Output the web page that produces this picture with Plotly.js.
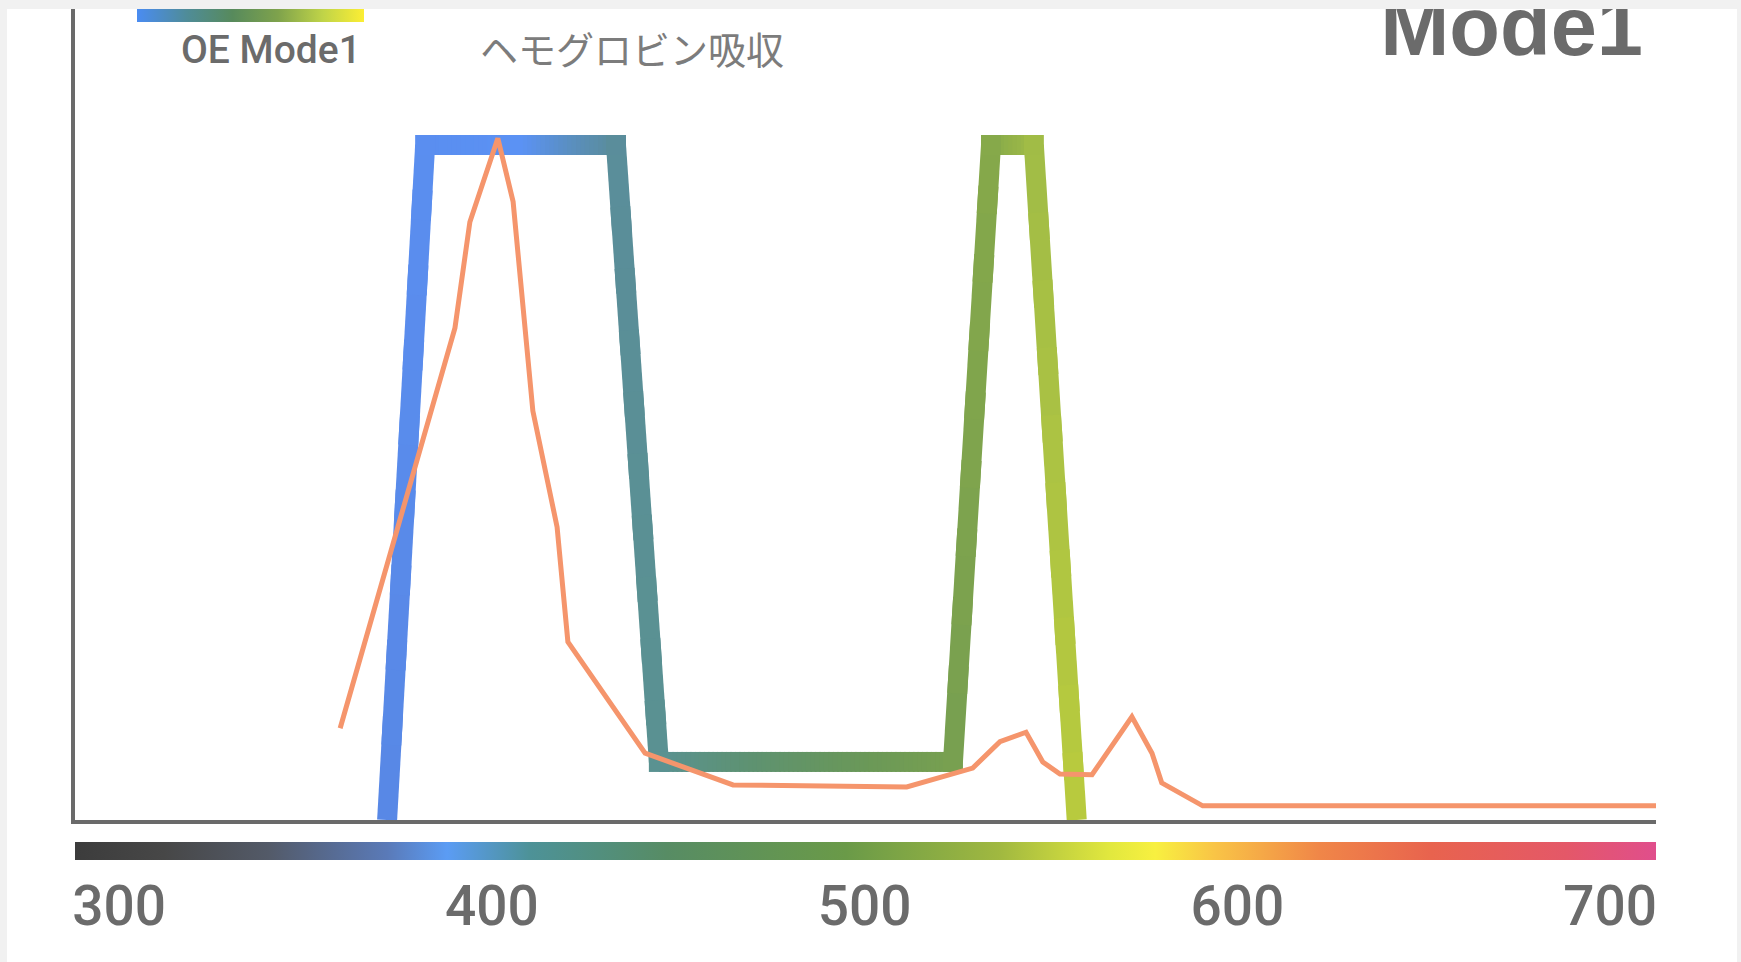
<!DOCTYPE html>
<html><head><meta charset="utf-8">
<script src="https://cdn.plot.ly/plotly-3.0.1.min.js"></script>
<style>
html,body{margin:0;padding:0;background:#f1f1f1;width:1741px;height:962px;overflow:hidden}
#chart{position:absolute;left:7px;top:9px;width:1730px;height:953px;background:#fff}
</style></head><body><div id="chart"></div>
<script>
// ---- data ----
const xRange = [288.17, 712.3];
const tickVals = [300, 400, 500, 600, 700];
const tickText = ['300', '400', '500', '600', '700'];

// OE Mode1 filter profile (vertices)
const oeX = [371.9, 382.1, 433.3, 444.8, 523.7, 533.9, 545.4, 556.9];
const oeY = [0, 100, 100, 8.6, 8.6, 100, 100, 0];

// Hemoglobin absorption
const hbX = [359.3, 390.1, 394.1, 401.6, 405.7, 411.0, 417.5, 420.4, 441.1, 464.7, 511.3, 529.0, 536.3, 543.3, 547.8, 552.4, 561.0, 571.7, 577.1, 579.7, 590.7, 712.3];
const hbY = [13.6, 72.9, 88.6, 101.0, 91.6, 60.6, 43.4, 26.4, 9.9, 5.2, 4.9, 7.7, 11.6, 13.0, 8.6, 6.8, 6.7, 15.3, 9.9, 5.5, 2.1, 2.1];

// OE Mode1 colour along wavelength
const oeGradNm = [371, 382, 408, 420, 432, 446, 470, 500, 524, 534, 546, 557];
const oeGradColors = ['#5887e4', '#5a8ef0', '#5b92f4', '#5a8fc4', '#5a8d9c', '#5a9290', '#5e9270', '#6a9858', '#78a050', '#86a94a', '#a2bd46', '#b9cb3e'];

// spectrum bar
const specNm = [288.17, 312, 340, 372, 388, 410, 447, 495, 536, 566, 578, 594, 622, 652, 688, 712.3];
const specColors = ['#3c3c3c', '#474747', '#535a68', '#5a7ab8', '#5b9cf4', '#4d9298', '#578c64', '#6a9a48', '#a0b840', '#e2e83e', '#f8f040', '#f9c446', '#f08648', '#e8634e', '#e45868', '#e04e8c'];

// legend swatch
const swatchPos = [0, 0.22, 0.42, 0.62, 0.82, 1];
const swatchColors = ['#4a8cf2', '#4f8c98', '#578a5c', '#7ea24c', '#c0d448', '#fcee34'];

// ---- helpers ----
function hexToRgb(h){h=h.replace('#','');return [0,2,4].map(i=>parseInt(h.substr(i,2),16));}
function colorAt(nm){
  if(nm<=oeGradNm[0]) return oeGradColors[0];
  for(let i=0;i<oeGradNm.length-1;i++){
    if(nm<=oeGradNm[i+1]){
      const t=(nm-oeGradNm[i])/(oeGradNm[i+1]-oeGradNm[i]);
      const a=hexToRgb(oeGradColors[i]), b=hexToRgb(oeGradColors[i+1]);
      const c=a.map((v,j)=>Math.round(v+(b[j]-v)*t));
      return 'rgb('+c.join(',')+')';
    }
  }
  return oeGradColors[oeGradColors.length-1];
}

const traces = [];
// spectrum bar
const span = specNm[specNm.length-1]-specNm[0];
traces.push({
  type:'scatter', mode:'none', xaxis:'x2', yaxis:'y2',
  x:[xRange[0], xRange[1], xRange[1], xRange[0], xRange[0]], y:[0,0,1,1,0],
  fill:'toself',
  fillgradient:{type:'horizontal', start:specNm[0], stop:specNm[specNm.length-1],
    colorscale: specNm.map((n,i)=>[(n-specNm[0])/span, specColors[i]])},
  hoverinfo:'skip', showlegend:false
});
// legend swatch
traces.push({
  type:'scatter', mode:'none', xaxis:'x3', yaxis:'y3',
  x:[0,1,1,0,0], y:[0,0,1,1,0], fill:'toself',
  fillgradient:{type:'horizontal', colorscale: swatchPos.map((p,i)=>[p, swatchColors[i]])},
  hoverinfo:'skip', showlegend:false
});
// OE Mode1 thick gradient line, as short pieces
for(let i=0;i<oeX.length-1;i++){
  const x0=oeX[i], y0=oeY[i], x1=oeX[i+1], y1=oeY[i+1];
  const n=Math.max(1, Math.ceil(Math.abs(x1-x0)/1.2));
  for(let k=0;k<n;k++){
    const t0=k/n, t1=Math.min(1,(k+1.4)/n), tm=(k+0.5)/n;
    traces.push({type:'scatter', mode:'lines',
      x:[x0+(x1-x0)*t0, x0+(x1-x0)*t1], y:[y0+(y1-y0)*t0, y0+(y1-y0)*t1],
      line:{color:colorAt(x0+(x1-x0)*tm), width:20},
      hoverinfo:'skip', showlegend:false});
  }
}
// corner fill
traces.push({type:'scatter', mode:'markers', x:oeX.slice(1,-1), y:oeY.slice(1,-1),
  marker:{symbol:'square', size:20, color:oeX.slice(1,-1).map(colorAt), line:{width:0}},
  hoverinfo:'skip', showlegend:false, name:'OE Mode1'});
// hemoglobin absorption
traces.push({type:'scatter', mode:'lines', x:hbX, y:hbY,
  line:{color:'#f5956c', width:5}, name:'ヘモグロビン吸収', showlegend:false});

const W=1730, H=953, L=68, R=81, T=0, B=102;
const PH=H-T-B, PW=W-L-R;
const txtFont = {family:'Roboto, "DejaVu Sans Condensed", sans-serif', color:'#6b6b6b', weight:500};

const layout = {
  width:W, height:H,
  margin:{l:L, r:R, t:T, b:B, pad:0},
  paper_bgcolor:'#ffffff', plot_bgcolor:'#ffffff',
  showlegend:false,
  title:{text:'Mode1', font:{family:'"Liberation Sans", Arial, sans-serif', size:83, color:'#6b6b6b', weight:'bold'},
    xref:'container', yref:'container', x:1636/W, xanchor:'right', y:1-46/H, yanchor:'bottom'},
  xaxis:{domain:[0,1], range:xRange, anchor:'y', showline:true, linecolor:'#6a6a6a', linewidth:4,
    showgrid:false, zeroline:false, showticklabels:false, ticks:'', fixedrange:true},
  yaxis:{domain:[40/PH,1], range:[0,120.15], anchor:'x', showline:true, linecolor:'#6a6a6a', linewidth:4,
    showgrid:false, zeroline:false, showticklabels:false, ticks:'', fixedrange:true},
  xaxis2:{domain:[0,1], range:xRange, anchor:'y2', showline:false, showgrid:false, zeroline:false,
    tickmode:'array', tickvals:tickVals, ticktext:tickText, ticks:'', ticklabelstandoff:9,
    tickfont:Object.assign({size:55}, txtFont), fixedrange:true},
  yaxis2:{domain:[0,18/PH], range:[0,1], anchor:'x2', visible:false, fixedrange:true},
  xaxis3:{domain:[(130-L)/PW,(357-L)/PW], range:[0,1], anchor:'y3', visible:false, fixedrange:true},
  yaxis3:{domain:[1-13/PH,1], range:[0,1], anchor:'x3', visible:false, fixedrange:true},
  annotations:[
    {text:'OE Mode1', xref:'paper', yref:'paper', x:(263.5-L)/PW, y:(PH-41)/PH, xanchor:'center', yanchor:'middle',
      showarrow:false, font:Object.assign({size:39}, txtFont)},
    {text:'ヘモグロビン吸収', xref:'paper', yref:'paper', x:(624.5-L)/PW, y:(PH-38)/PH, xanchor:'center', yanchor:'middle',
      showarrow:false, font:{family:'"Noto Sans CJK JP", sans-serif', size:38, color:'#7c7c7c'}}
  ]
};
Plotly.newPlot('chart', traces, layout, {staticPlot:true, displayModeBar:false});
</script></body></html>
